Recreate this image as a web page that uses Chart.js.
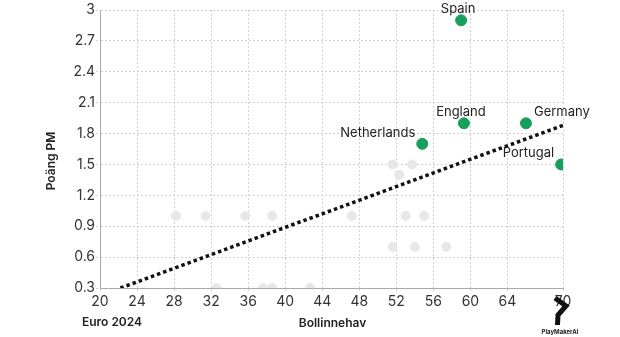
<!DOCTYPE html>
<html>
<head>
<meta charset="utf-8">
<script src="https://cdn.jsdelivr.net/npm/chart.js@4"></script>
<style>
  html, body { margin: 0; padding: 0; background: #fff; }
  #wrap { width: 620px; height: 337px; }
</style>
</head>
<body>
<div id="wrap"><canvas id="chart" width="620" height="337"></canvas></div>
<script>
// labelled teams
const teams = ['Spain', 'England', 'Germany', 'Netherlands', 'Portugal'];
const teamPossession = [59.0, 59.3, 66.0, 54.8, 69.8];
const teamPoints = [2.9, 1.9, 1.9, 1.7, 1.5];

// rest of the field
const otherPossession = [28.2, 31.4, 35.7, 38.6, 47.2, 53.0, 55.0, 51.6, 53.7, 52.3, 51.6, 54.0, 57.4, 32.6, 37.6, 38.6, 42.7];
const otherPoints = [1.0, 1.0, 1.0, 1.0, 1.0, 1.0, 1.0, 1.5, 1.5, 1.4, 0.7, 0.7, 0.7, 0.3, 0.3, 0.3, 0.3];

// trend line end points
const trendX = [22.2, 70];
const trendY = [0.3, 1.88];

const xTicks = [20, 24, 28, 32, 36, 40, 44, 48, 52, 56, 60, 64, 70];
const yTicks = [0.3, 0.6, 0.9, 1.2, 1.5, 1.8, 2.1, 2.4, 2.7, 3];

const FONT = 'Inter, "Noto Sans", sans-serif';
const GREEN = '#17a05b';
const GRID = '#d2d2d2';

const toPoints = (xs, ys) => xs.map((x, i) => ({ x: x, y: ys[i] }));

// where each team name sits relative to its dot
const labelPlace = {
  Spain: { align: 'center', dx: -3 },
  England: { align: 'center', dx: -3 },
  Germany: { align: 'left', dx: 8 },
  Netherlands: { align: 'right', dx: -7 },
  Portugal: { align: 'right', dx: -7 }
};

const teamLabels = {
  id: 'teamLabels',
  afterDatasetsDraw(chart) {
    const ctx = chart.ctx;
    const meta = chart.getDatasetMeta(0);
    ctx.save();
    ctx.font = '13px ' + FONT;
    ctx.fillStyle = '#222';
    ctx.textBaseline = 'middle';
    meta.data.forEach((pt, i) => {
      const place = labelPlace[teams[i]];
      ctx.textAlign = place.align;
      ctx.fillText(teams[i], pt.x + place.dx, pt.y - 11);
    });
    ctx.restore();
  }
};

const titles = {
  id: 'titles',
  afterDraw(chart) {
    const ctx = chart.ctx;
    const area = chart.chartArea;
    ctx.save();
    ctx.fillStyle = '#222';
    ctx.font = '600 12px ' + FONT;
    ctx.textAlign = 'center';
    ctx.textBaseline = 'middle';
    ctx.fillText('Bollinnehav', (area.left + area.right) / 2 + 1, 323);
    ctx.fillText('Euro 2024', 112, 322);
    ctx.translate(51, 161);
    ctx.rotate(-Math.PI / 2);
    ctx.fillText('Poäng PM', 0, 0);
    ctx.restore();

    // PlayMakerAI mark
    ctx.save();
    ctx.strokeStyle = '#111';
    ctx.lineWidth = 5;
    ctx.lineJoin = 'miter';
    ctx.beginPath();
    ctx.moveTo(555, 298);
    ctx.lineTo(566, 306);
    ctx.lineTo(558, 315);
    ctx.lineTo(557.5, 325);
    ctx.stroke();
    ctx.fillStyle = '#222';
    ctx.font = 'bold 6px ' + FONT;
    ctx.textAlign = 'center';
    ctx.textBaseline = 'middle';
    ctx.fillText('PlayMakerAI', 560, 332);
    ctx.restore();
  }
};

new Chart(document.getElementById('chart'), {
  type: 'scatter',
  data: {
    datasets: [
      {
        label: 'Lag',
        data: toPoints(teamPossession, teamPoints),
        backgroundColor: GREEN,
        borderColor: GREEN,
        pointRadius: 5.5,
        pointHoverRadius: 5.5
      },
      {
        label: 'Trend',
        type: 'line',
        data: toPoints(trendX, trendY),
        borderColor: '#111',
        borderWidth: 3.5,
        borderDash: [3.5, 3],
        borderCapStyle: 'butt',
        pointRadius: 0,
        fill: false
      },
      {
        label: 'Övriga',
        data: toPoints(otherPossession, otherPoints),
        backgroundColor: '#e6e7ea',
        borderColor: '#e6e7ea',
        pointRadius: 4.5,
        pointHoverRadius: 4.5
      }
    ]
  },
  options: {
    responsive: false,
    animation: false,
    layout: { padding: { left: 0, right: 57, top: 10, bottom: 0 } },
    plugins: {
      legend: { display: false },
      tooltip: { enabled: false }
    },
    scales: {
      x: {
        type: 'linear',
        min: 20,
        max: 70,
        afterBuildTicks: (axis) => { axis.ticks = xTicks.map(v => ({ value: v })); },
        afterFit: (axis) => { axis.height = 49; },
        grid: {
          color: GRID,
          borderDash: [2, 2],
          tickColor: GRID,
          tickLength: 4,
          tickBorderDash: [2, 2]
        },
        border: { color: '#aaa', dash: [2, 2] },
        ticks: {
          color: '#333',
          padding: 1,
          font: { family: FONT, size: 14 },
          callback: (v) => v
        }
      },
      y: {
        type: 'linear',
        min: 0.3,
        max: 3,
        afterBuildTicks: (axis) => { axis.ticks = yTicks.map(v => ({ value: v })); },
        afterFit: (axis) => { axis.width = 100; },
        grid: {
          color: GRID,
          borderDash: [2, 2],
          tickColor: GRID,
          tickLength: 4,
          tickBorderDash: [2, 2]
        },
        border: { color: '#aaa', dash: [2, 2] },
        ticks: {
          color: '#333',
          padding: 1,
          font: { family: FONT, size: 14 },
          callback: (v) => String(Math.round(v * 10) / 10)
        }
      }
    }
  },
  plugins: [teamLabels, titles]
});
</script>
</body>
</html>
